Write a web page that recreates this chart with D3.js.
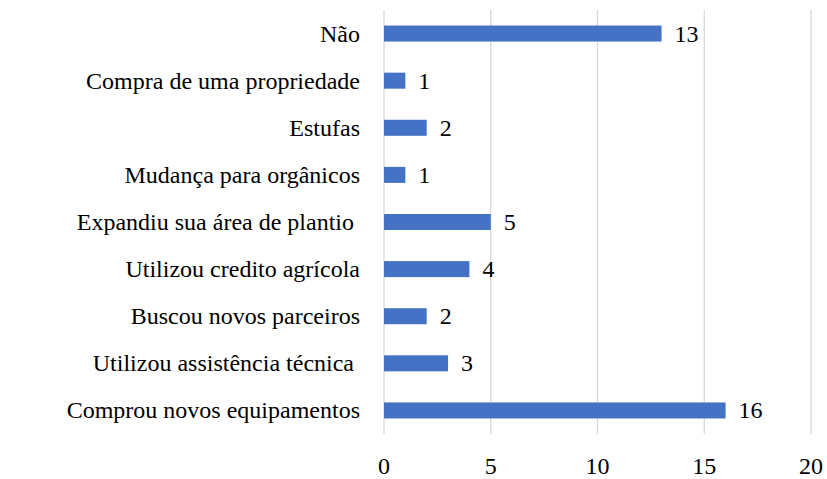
<!DOCTYPE html>
<html>
<head>
<meta charset="utf-8">
<script src="https://cdn.jsdelivr.net/npm/d3@7"></script>
<style>
  svg text { font-family: Tinos, "Liberation Serif", "Times New Roman", Times, serif !important; }
</style>
</head>
<body style="margin:0">
<div id="chart"></div>
<script>
// categories top to bottom
const categories = [
  "Não",
  "Compra de uma propriedade",
  "Estufas",
  "Mudança para orgânicos",
  "Expandiu sua área de plantio ",
  "Utilizou credito agrícola",
  "Buscou novos parceiros",
  "Utilizou assistência técnica ",
  "Comprou novos equipamentos"
];
const values = [13, 1, 2, 1, 5, 4, 2, 3, 16];
const ticks = [0, 5, 10, 15, 20];

const font = "Tinos, 'Liberation Serif', 'Times New Roman', Times, serif";

let width = 827, height = 479;
let margin = { top: 10, left: 384, right: 16, bottom: 45 };

let svg = d3.select('#chart')
  .append('svg')
  .attr('width', width)
  .attr('height', height)
  .attr('font-family', font);

const x = d3.scaleLinear()
  .domain([0, 20])
  .range([margin.left, width - margin.right]);

const y = d3.scaleBand()
  .domain(categories)
  .range([margin.top, height - margin.bottom])
  .paddingInner(0.66)
  .paddingOuter(0.33);

// gridlines
svg.append("g")
  .selectAll("line")
  .data(ticks)
  .join("line")
    .attr("x1", d => x(d))
    .attr("x2", d => x(d))
    .attr("y1", margin.top)
    .attr("y2", height - margin.bottom)
    .attr("stroke", "#d9d9d9")
    .attr("stroke-width", 1.3);

// bars
svg.selectAll("rect.bar")
  .data(values)
  .join("rect")
    .attr("class", "bar")
    .attr("x", x(0))
    .attr("y", (d, i) => y(categories[i]))
    .attr("width", d => x(d) - x(0))
    .attr("height", y.bandwidth())
    .attr("fill", "#4472c4");

// tick labels
svg.append("g")
  .selectAll("text")
  .data(ticks)
  .join("text")
    .attr("x", d => x(d))
    .attr("y", 474)
    .attr("text-anchor", "middle")
    .attr("font-family", font)
    .style("font-size", "24px")
    .text(d => d);

// value labels
svg.selectAll("text.val")
  .data(values)
  .join("text")
    .attr("class", "val")
    .attr("x", d => x(d) + 13)
    .attr("y", (d, i) => y(categories[i]) + y.bandwidth() / 2 + 8)
    .attr("font-family", font)
    .style("font-size", "24px")
    .text(d => d);

// category labels
svg.selectAll("text.cat")
  .data(categories)
  .join("text")
    .attr("class", "cat")
    .attr("x", 360)
    .attr("y", d => y(d) + y.bandwidth() / 2 + 8)
    .attr("text-anchor", "end")
    .attr("xml:space", "preserve")
    .attr("font-family", font)
    .style("font-size", "24px")
    .text(d => d);
</script>
</body>
</html>
